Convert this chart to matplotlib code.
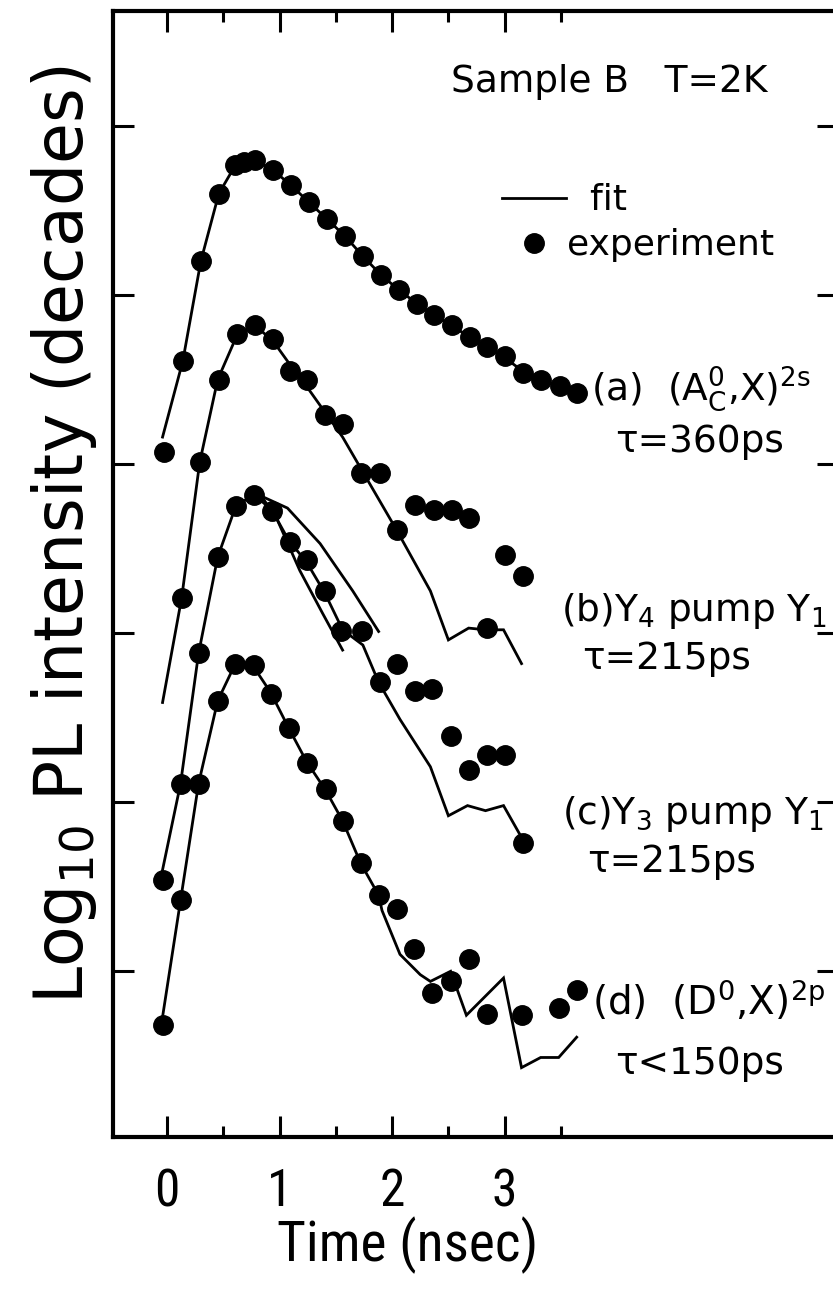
import matplotlib
matplotlib.use('Agg')
import matplotlib.pyplot as plt
from matplotlib import font_manager

plt.rcParams['font.family'] = ['DejaVu Sans']
plt.rcParams['mathtext.default'] = 'regular'

# narrow face for the time axis if it is there
installed = {f.name for f in font_manager.fontManager.ttflist}
if 'Roboto Condensed' in installed:
    narrow = 'Roboto Condensed'
    tick_size, xlab_size = 37, 40
else:
    narrow = 'DejaVu Sans'
    tick_size, xlab_size = 32, 33

# =====================================================
# DATA  (time in nsec, log10 intensity in decades)
# =====================================================

# (a) (A0_C, X)^2s
a_time = [-0.03, 0.14, 0.30, 0.46, 0.60, 0.68, 0.78, 0.94, 1.10, 1.26, 1.42, 1.58,
          1.74, 1.90, 2.06, 2.22, 2.37, 2.53, 2.69, 2.84, 3.00, 3.16, 3.32, 3.49, 3.64]
a_exp = [4.07, 4.61, 5.20, 5.60, 5.77, 5.79, 5.80, 5.74, 5.65, 5.55, 5.45, 5.35,
         5.23, 5.12, 5.03, 4.95, 4.88, 4.82, 4.75, 4.69, 4.64, 4.54, 4.50, 4.46, 4.42]
a_fit_time = [-0.04, 0.14, 0.30, 0.46, 0.60, 0.78, 0.94, 1.10, 1.26, 1.42, 1.58, 1.74,
              1.90, 2.06, 2.22, 2.37, 2.53, 2.69, 2.84, 3.00, 3.16, 3.32, 3.49, 3.64]
a_fit = [4.16, 4.61, 5.20, 5.60, 5.76, 5.80, 5.74, 5.65, 5.55, 5.45, 5.35, 5.23,
         5.12, 5.03, 4.95, 4.88, 4.82, 4.75, 4.69, 4.63, 4.55, 4.50, 4.46, 4.42]

# (b) Y4 pump Y1
b_time = [0.13, 0.29, 0.46, 0.62, 0.78, 0.94, 1.09, 1.24, 1.40, 1.56, 1.72, 1.89,
          2.04, 2.20, 2.37, 2.53, 2.68, 2.84, 3.00, 3.16]
b_exp = [3.21, 4.01, 4.50, 4.77, 4.82, 4.74, 4.55, 4.50, 4.29, 4.24, 3.95, 3.95,
         3.61, 3.76, 3.73, 3.73, 3.68, 3.03, 3.46, 3.34]
b_fit_time = [-0.04, 0.13, 0.29, 0.45, 0.62, 0.78, 0.94, 1.08, 1.24, 1.40, 1.56, 2.04,
              2.34, 2.50, 2.68, 2.83, 2.99, 3.15]
b_fit = [2.59, 3.21, 4.01, 4.50, 4.76, 4.82, 4.73, 4.60, 4.46, 4.31, 4.16, 3.61,
         3.25, 2.96, 3.03, 3.02, 3.02, 2.82]

# (c) Y3 pump Y1
c_time = [-0.04, 0.12, 0.28, 0.45, 0.61, 0.77, 0.93, 1.09, 1.24, 1.40, 1.55, 1.73,
          1.89, 2.04, 2.20, 2.35, 2.52, 2.68, 2.84, 3.00, 3.16]
c_exp = [1.54, 2.11, 2.88, 3.45, 3.75, 3.82, 3.72, 3.54, 3.43, 3.25, 3.01, 3.01,
         2.71, 2.82, 2.66, 2.67, 2.39, 2.19, 2.28, 2.28, 1.76]
c_fit_time = [-0.04, 0.12, 0.28, 0.45, 0.61, 0.77, 0.93, 1.08, 1.24, 1.40, 1.56, 1.74,
              1.88, 2.07, 2.34, 2.50, 2.67, 2.83, 2.99, 3.16]
c_fit = [1.60, 2.11, 2.88, 3.45, 3.75, 3.82, 3.73, 3.55, 3.42, 3.24, 3.02, 2.93,
         2.71, 2.49, 2.21, 1.92, 1.98, 1.95, 1.98, 1.78]
c_slow_time = [0.84, 1.07, 1.36, 1.65, 1.88]
c_slow = [3.81, 3.74, 3.53, 3.25, 3.01]
c_fast_time = [0.84, 0.98, 1.18, 1.38, 1.56]
c_fast = [3.81, 3.67, 3.37, 3.12, 2.90]

# (d) (D0, X)^2p
d_time = [-0.04, 0.12, 0.28, 0.45, 0.60, 0.77, 0.92, 1.08, 1.24, 1.41, 1.56, 1.72,
          1.88, 2.04, 2.19, 2.35, 2.52, 2.68, 2.84, 3.15, 3.48, 3.64]
d_exp = [0.68, 1.42, 2.11, 2.60, 2.82, 2.81, 2.64, 2.44, 2.23, 2.08, 1.89, 1.64,
         1.45, 1.37, 1.13, 0.87, 0.94, 1.07, 0.75, 0.74, 0.78, 0.89]
d_fit_time = [-0.04, 0.12, 0.28, 0.45, 0.60, 0.76, 0.92, 1.08, 1.24, 1.41, 1.56, 1.72,
              1.88, 1.91, 2.07, 2.25, 2.34, 2.52, 2.66, 2.99, 3.15, 3.32, 3.48, 3.64]
d_fit = [0.73, 1.42, 2.11, 2.60, 2.81, 2.81, 2.65, 2.44, 2.24, 2.07, 1.89, 1.64,
         1.45, 1.36, 1.10, 0.98, 0.94, 1.00, 0.74, 0.96, 0.43, 0.49, 0.49, 0.61]

x_major = [0, 1, 2, 3]
x_minor = [0.5, 1.5, 2.5, 3.5]
y_major = [1, 2, 3, 4, 5, 6]

# =====================================================
# FIGURE
# =====================================================

fig = plt.figure(figsize=(8.33, 13.01), dpi=100)
ax = fig.add_axes([0.1357, 0.1261, 0.870, 0.8654])

line_kw = dict(color='black', lw=2.0, solid_joinstyle='miter')
dot_kw = dict(ls='none', marker='o', color='black', ms=14)

fit_line, = ax.plot(a_fit_time, a_fit, **line_kw)
ax.plot(b_fit_time, b_fit, **line_kw)
ax.plot(c_fit_time, c_fit, **line_kw)
ax.plot(c_slow_time, c_slow, **line_kw)
ax.plot(c_fast_time, c_fast, **line_kw)
ax.plot(d_fit_time, d_fit, **line_kw)

exp_dots, = ax.plot(a_time, a_exp, **dot_kw)
ax.plot(b_time, b_exp, **dot_kw)
ax.plot(c_time, c_exp, **dot_kw)
ax.plot(d_time, d_exp, **dot_kw)

ax.set_xlim(-0.48, 5.96)
ax.set_ylim(0.02, 6.68)

ax.set_xticks(x_major)
ax.set_xticks(x_minor, minor=True)
ax.set_yticks(y_major)
ax.set_yticklabels([])

ax.tick_params(axis='x', which='major', direction='in', top=True, length=15,
               width=2.2, labelsize=tick_size, pad=22)
ax.tick_params(axis='x', which='minor', direction='in', top=True, length=8,
               width=2.2)
ax.tick_params(axis='y', which='major', direction='in', right=True, length=15,
               width=2.2)
for lab in ax.get_xticklabels():
    lab.set_family([narrow, 'DejaVu Sans'])

for s in ax.spines.values():
    s.set_linewidth(3)

ax.set_xlabel('Time (nsec)', fontsize=xlab_size, family=[narrow, 'DejaVu Sans'])
ax.xaxis.set_label_coords(0.407, -0.071)
ax.set_ylabel('Log$_{10}$ PL intensity (decades)', fontsize=48)
ax.yaxis.set_label_coords(-0.02, 0.535)

# =====================================================
# ANNOTATIONS
# =====================================================

ax.text(2.52, 6.20, 'Sample B   T=2K', fontsize=27, va='baseline')

ax.text(3.77, 4.38, '(a)  (A$^{0}_{C}$,X)$^{2s}$', fontsize=27, va='baseline')
ax.text(3.98, 4.07, 'τ=360ps', fontsize=27, va='baseline')

ax.text(3.50, 3.07, '(b)Y$_4$ pump Y$_1$', fontsize=27, va='baseline')
ax.text(3.69, 2.79, 'τ=215ps', fontsize=27, va='baseline')

ax.text(3.51, 1.87, '(c)Y$_3$ pump Y$_1$', fontsize=27, va='baseline')
ax.text(3.73, 1.59, 'τ=215ps', fontsize=27, va='baseline')

ax.text(3.78, 0.74, '(d)  (D$^{0}$,X)$^{2p}$', fontsize=28, va='baseline')
ax.text(3.98, 0.39, 'τ<150ps', fontsize=27, va='baseline')

ax.legend([fit_line, exp_dots], ['  fit', 'experiment'], loc='upper left',
          bbox_to_anchor=(2.98, 5.66), bbox_transform=ax.transData,
          frameon=False, fontsize=26, handlelength=1.75, handletextpad=0.05,
          labelspacing=0.3, borderpad=0, borderaxespad=0, numpoints=1)

fig.savefig('out.png', dpi=100)
